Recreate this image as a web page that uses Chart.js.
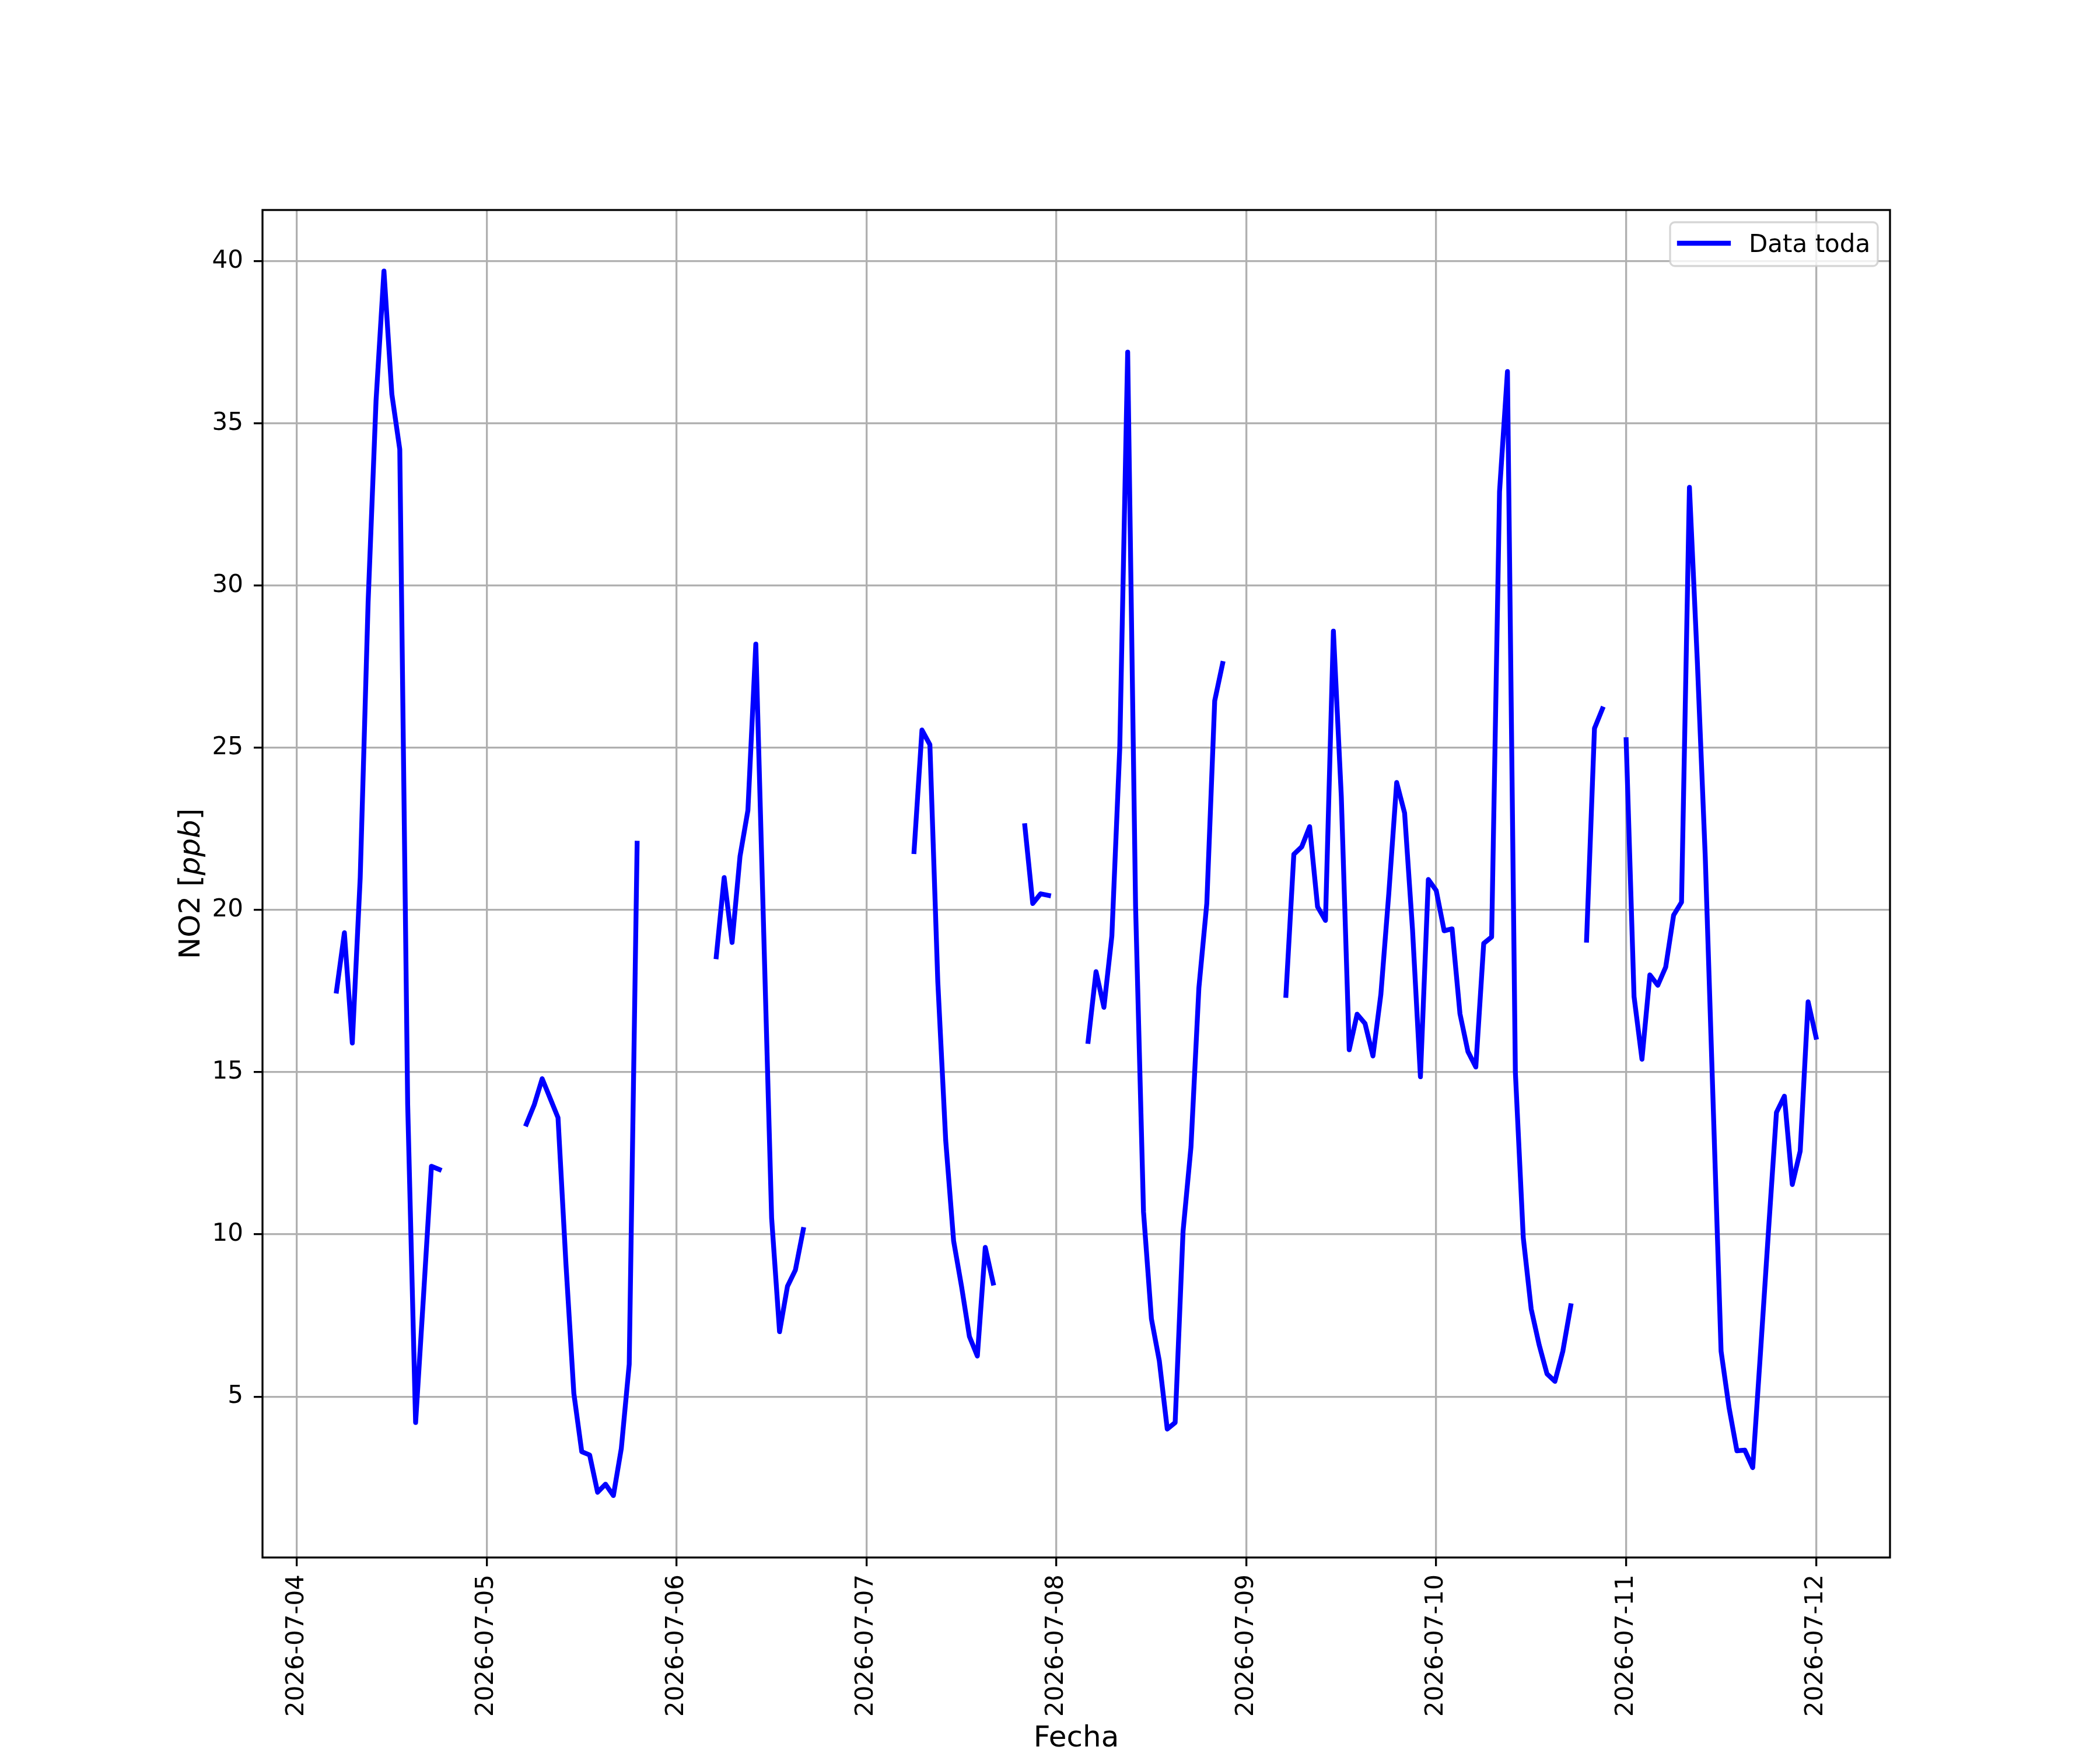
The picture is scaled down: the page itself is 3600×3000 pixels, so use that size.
<!DOCTYPE html>
<html>
<head>
<meta charset="utf-8">
<script src="https://cdn.jsdelivr.net/npm/chart.js@4.4.1/dist/chart.umd.min.js"></script>
<style>
  html, body { margin: 0; padding: 0; background: #fff; }
  #grafico { display: block; }
</style>
</head>
<body>
<canvas id="grafico" width="3600" height="3000"></canvas>
<script>
// NO2 horario, la hora 0 es 2026-07-04 00:00
// cada tramo empieza en la hora indicada en inicios[]
const inicios = [5, 29, 53, 78, 92, 100, 125, 163, 168];

const tramo1 = [17.5, 19.3, 15.9, 21.0, 29.5, 35.7, 39.7, 35.9, 34.2, 14.0, 4.2, 8.1, 12.1, 12.0];
const tramo2 = [13.4, 14.0, 14.8, 14.2, 13.6, 9.1, 5.1, 3.3, 3.2, 2.05, 2.3, 1.95, 3.4, 6.0, 22.06];
const tramo3 = [18.56, 21.0, 19.0, 21.65, 23.07, 28.2, 19.3, 10.5, 7.0, 8.4, 8.9, 10.15];
const tramo4 = [21.8, 25.55, 25.1, 17.8, 12.9, 9.8, 8.4, 6.85, 6.25, 9.6, 8.5];
const tramo5 = [22.6, 20.2, 20.5, 20.45];
const tramo6 = [15.95, 18.1, 17.0, 19.2, 25.0, 37.2, 20.1, 10.7, 7.4, 6.1, 4.0, 4.2, 10.1, 12.7, 17.6, 20.2, 26.45, 27.6];
const tramo7 = [17.37, 21.72, 21.95, 22.57, 20.1, 19.68, 28.6, 23.5, 15.69, 16.79, 16.5, 15.5, 17.4, 20.5,
                23.93, 22.99, 19.4, 14.86, 20.94, 20.6, 19.36, 19.42, 16.8, 15.64, 15.16, 18.97, 19.17,
                32.9, 36.6, 15.0, 9.9, 7.7, 6.6, 5.7, 5.47, 6.4, 7.8];
const tramo8 = [19.07, 25.6, 26.2];
const tramo9 = [25.25, 17.33, 15.4, 18.0, 17.68, 18.24, 19.84, 20.24, 33.03, 27.65, 21.64, 14.0, 6.4,
                4.67, 3.33, 3.35, 2.81, 6.43, 10.14, 13.76, 14.26, 11.54, 12.57, 17.17, 16.08];

const tramos = [tramo1, tramo2, tramo3, tramo4, tramo5, tramo6, tramo7, tramo8, tramo9];

const horasTick = [0, 24, 48, 72, 96, 120, 144, 168, 192];
const etiquetasFecha = ['2026-07-04', '2026-07-05', '2026-07-06', '2026-07-07', '2026-07-08',
                        '2026-07-09', '2026-07-10', '2026-07-11', '2026-07-12'];
const ticksY = [5, 10, 15, 20, 25, 30, 35, 40];

// puntos con un hueco (null) entre tramos
const puntos = [];
tramos.forEach((vals, k) => {
    if (k > 0) puntos.push({ x: inicios[k] - 0.5, y: null });
    vals.forEach((v, i) => puntos.push({ x: inicios[k] + i, y: v }));
});

Chart.defaults.font.family = "'DejaVu Sans', sans-serif";
Chart.defaults.color = '#000';

const GRIS = '#b0b0b0';
const LW = 3.3;

const extras = {
    id: 'extras',
    afterDraw(chart) {
        const { ctx, chartArea: a } = chart;
        ctx.save();

        // marco completo
        ctx.strokeStyle = '#000';
        ctx.lineWidth = LW;
        ctx.strokeRect(a.left, a.top, a.right - a.left, a.bottom - a.top);

        // leyenda
        const bx = 2863, by = 381, bw = 356, bh = 75, r = 8;
        ctx.beginPath();
        ctx.moveTo(bx + r, by);
        ctx.arcTo(bx + bw, by, bx + bw, by + bh, r);
        ctx.arcTo(bx + bw, by + bh, bx, by + bh, r);
        ctx.arcTo(bx, by + bh, bx, by, r);
        ctx.arcTo(bx, by, bx + bw, by, r);
        ctx.closePath();
        ctx.fillStyle = 'rgba(255,255,255,0.8)';
        ctx.fill();
        ctx.strokeStyle = 'rgba(204,204,204,0.8)';
        ctx.lineWidth = LW;
        ctx.stroke();

        ctx.beginPath();
        ctx.moveTo(2879, 417);
        ctx.lineTo(2963, 417);
        ctx.strokeStyle = '#0000ff';
        ctx.lineWidth = 8.3;
        ctx.lineCap = 'square';
        ctx.stroke();

        ctx.fillStyle = '#000';
        ctx.font = "42px 'DejaVu Sans'";
        ctx.textAlign = 'left';
        ctx.textBaseline = 'alphabetic';
        ctx.fillText(chart.data.datasets[0].label, 2998, 432);

        // etiqueta eje x
        ctx.font = "50px 'DejaVu Sans'";
        ctx.textAlign = 'center';
        ctx.fillText('Fecha', (a.left + a.right) / 2, 2994);

        // etiqueta eje y, con ppb en cursiva
        const partes = [['NO2 [', "50px 'DejaVu Sans'"], ['ppb', "italic 50px 'DejaVu Sans'"], [']', "50px 'DejaVu Sans'"]];
        let total = 0;
        partes.forEach(p => { ctx.font = p[1]; total += ctx.measureText(p[0]).width; });
        ctx.translate(342, (a.top + a.bottom) / 2);
        ctx.rotate(-Math.PI / 2);
        ctx.textAlign = 'left';
        let xx = -total / 2;
        partes.forEach(p => {
            ctx.font = p[1];
            ctx.fillText(p[0], xx, 0);
            xx += ctx.measureText(p[0]).width;
        });

        ctx.restore();
    }
};

const ctx = document.getElementById('grafico').getContext('2d');

new Chart(ctx, {
    type: 'line',
    data: {
        datasets: [{
            label: 'Data toda',
            data: puntos,
            borderColor: '#0000ff',
            borderWidth: 8.3,
            borderJoinStyle: 'round',
            borderCapStyle: 'square',
            pointRadius: 0,
            tension: 0,
            spanGaps: false,
            fill: false
        }]
    },
    options: {
        responsive: false,
        animation: false,
        devicePixelRatio: 1,
        layout: { autoPadding: false, padding: { top: 360, right: 360, bottom: 0, left: 0 } },
        plugins: { legend: { display: false }, tooltip: { enabled: false } },
        scales: {
            x: {
                type: 'linear',
                min: -4.35,
                max: 201.35,
                afterBuildTicks: s => { s.ticks = horasTick.map(v => ({ value: v })); },
                afterFit: s => { s.height = 330; },
                border: { display: false },
                grid: { color: GRIS, lineWidth: LW, tickColor: '#000', tickWidth: LW, tickLength: 15 },
                ticks: {
                    autoSkip: false,
                    minRotation: 90,
                    maxRotation: 90,
                    padding: 14,
                    font: { size: 42 },
                    callback: v => etiquetasFecha[horasTick.indexOf(v)]
                }
            },
            y: {
                min: 0.04,
                max: 41.58,
                afterBuildTicks: s => { s.ticks = ticksY.map(v => ({ value: v })); },
                afterFit: s => { s.width = 450; },
                border: { display: false },
                grid: { color: GRIS, lineWidth: LW, tickColor: '#000', tickWidth: LW, tickLength: 15 },
                ticks: {
                    padding: 18,
                    font: { size: 42 },
                    callback: v => String(v)
                }
            }
        }
    },
    plugins: [extras]
});
</script>
</body>
</html>
